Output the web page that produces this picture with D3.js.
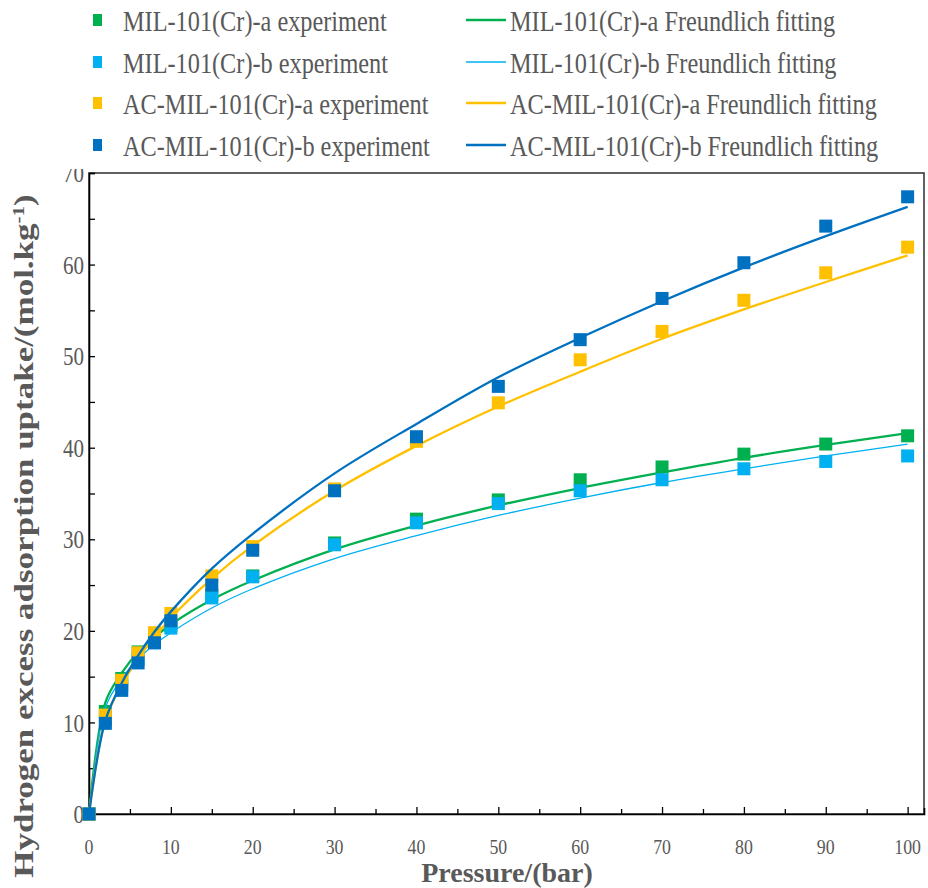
<!DOCTYPE html>
<html><head><meta charset="utf-8">
<script src="https://cdn.jsdelivr.net/npm/d3@7"></script>
<style>html,body{margin:0;padding:0;background:#fff;}svg{display:block;}</style>
</head><body>
<script>
// ---- data ----
const pressure = [0,2,4,6,8,10,15,20,30,40,50,60,70,80,90,100];
const milA_exp = [0,11.2,14.8,17.7,19.4,20.6,23.9,26.0,29.6,32.2,34.3,36.5,37.9,39.3,40.4,41.3];
const milB_exp = [0,10.3,14.0,16.9,18.7,20.3,23.6,25.9,29.4,31.8,33.9,35.3,36.5,37.7,38.5,39.1];
const acA_exp  = [0,10.8,14.6,17.6,19.8,21.9,26.0,29.2,35.5,40.7,44.9,49.6,52.7,56.1,59.1,61.9];
const acB_exp  = [0,9.9,13.5,16.5,18.7,21.1,25.0,28.8,35.3,41.2,46.7,51.8,56.3,60.2,64.2,67.4];
const milA_fit = [0,12.2,15.4,17.7,19.3,20.7,23.4,25.5,28.9,31.5,33.7,35.6,37.3,38.9,40.3,41.6];
const milB_fit = [0,11.6,14.8,16.9,18.5,19.8,22.5,24.6,27.9,30.4,32.6,34.5,36.2,37.7,39.1,40.4];
const acA_fit  = [0,10.3,14.1,17.0,19.3,21.4,25.7,29.3,35.3,40.2,44.5,48.3,51.9,55.1,58.1,61.0];
const acB_fit  = [0,10.2,14.3,17.3,19.9,22.1,26.8,30.6,37.2,42.6,47.7,52.0,56.0,59.7,63.1,66.3];
const xTicks = [0,10,20,30,40,50,60,70,80,90,100];
const yTicks = [0,10,20,30,40,50,60,70];
const seriesNames = [
  "MIL-101(Cr)-a experiment","MIL-101(Cr)-a Freundlich fitting",
  "MIL-101(Cr)-b experiment","MIL-101(Cr)-b Freundlich fitting",
  "AC-MIL-101(Cr)-a experiment","AC-MIL-101(Cr)-a Freundlich fitting",
  "AC-MIL-101(Cr)-b experiment","AC-MIL-101(Cr)-b Freundlich fitting"];
const colors = ["#00B050","#00B0F0","#FFC000","#0070C0"];
const lineWidths = [2.3,1.3,2.3,2.3];
const expData = [milA_exp, milB_exp, acA_exp, acB_exp];
const fitData = [milA_fit, milB_fit, acA_fit, acB_fit];

const W = 928, H = 888;
const L = 89, R = 924, T = 173, B = 814;
const SX = 0.81; // horizontal text compression
const FONT = "'Liberation Serif','Times New Roman',serif";
const TXT = "#595959";

const svg = d3.select("body").append("svg").attr("width", W).attr("height", H);
const x = d3.scaleLinear().domain([0, 102]).range([L, R]);
const y = d3.scaleLinear().domain([0, 70]).range([B, T]);

function txt(g, s, px, py, size, anchor, opts = {}) {
  const sx = opts.sx || SX;
  const t = g.append("text")
    .attr("transform", `translate(${px},${py}) scale(${sx},1)` + (opts.rotate ? ` rotate(${opts.rotate})` : ""))
    .attr("text-anchor", anchor)
    .attr("dy", "0.35em")
    .attr("font-family", FONT)
    .attr("font-size", size)
    .attr("font-weight", opts.bold ? "bold" : "normal")
    .attr("fill", TXT);
  if (s !== null) t.text(s);
  return t;
}

// frame
svg.append("rect").attr("x", L).attr("y", T).attr("width", R - L).attr("height", B - T)
  .attr("fill", "none").attr("stroke", "#3a3a3a").attr("stroke-width", 1.6);

// axes (ticks inside)
const xAxis = d3.axisBottom(x).tickValues(d3.range(0, 101, 5)).tickSize(-6).tickFormat("");
const gx = svg.append("g").attr("transform", `translate(0,${B})`).call(xAxis);
gx.select(".domain").attr("stroke", "#000").attr("stroke-width", 1.6);
gx.selectAll(".tick line").attr("stroke", "#000").attr("stroke-width", 1.3)
  .attr("y2", d => d % 10 === 0 ? -7 : -5);
const yAxis = d3.axisLeft(y).tickValues(d3.range(0, 71, 5)).tickSize(-6).tickFormat("");
const gy = svg.append("g").attr("transform", `translate(${L},0)`).call(yAxis);
gy.select(".domain").attr("stroke", "#000").attr("stroke-width", 1.6);
gy.selectAll(".tick line").attr("stroke", "#000").attr("stroke-width", 1.3)
  .attr("x2", 6);

// tick labels
const lab = svg.append("g");
xTicks.forEach(v => txt(lab, String(v), x(v), 846, 22, "middle"));
yTicks.forEach(v => txt(lab, String(v), 84, y(v), 26, "end"));

// axis titles
txt(svg, "Pressure/(bar)", 507, 872, 28, "middle", {bold: true, sx: 1.0});
const yt = txt(svg, null, 23, 536, 35, "middle", {bold: true, rotate: -90});
yt.append("tspan").text("Hydrogen excess adsorption uptake/(mol.kg");
yt.append("tspan").attr("baseline-shift", "super").attr("font-size", "60%").text("-1");
yt.append("tspan").text(")");

// series
const line = d3.line().x((d, i) => x(pressure[i])).y(d => y(d)).curve(d3.curveCatmullRom.alpha(0.5));
const ms = 13;
for (let s = 0; s < 4; s++) {
  svg.append("g").selectAll("rect").data(expData[s]).join("rect")
    .attr("x", (d, i) => x(pressure[i]) - ms / 2)
    .attr("y", d => y(d) - ms / 2)
    .attr("width", ms).attr("height", ms)
    .attr("fill", colors[s]);
  svg.append("path").datum(fitData[s]).attr("d", line)
    .attr("fill", "none").attr("stroke", colors[s]).attr("stroke-width", lineWidths[s]);
}

// legend (white background clips the top of the "70" label)
svg.append("rect").attr("x", 0).attr("y", 0).attr("width", W).attr("height", 169).attr("fill", "#fff");
const rowsY = [20, 62, 103, 145];
const leg = svg.append("g");
for (let s = 0; s < 4; s++) {
  const ry = rowsY[s];
  leg.append("rect").attr("x", 93).attr("y", ry - 6).attr("width", 9).attr("height", 12).attr("fill", colors[s]);
  txt(leg, seriesNames[2 * s], 123, ry, 30, "start");
  leg.append("line").attr("x1", 466).attr("x2", 506).attr("y1", ry).attr("y2", ry)
    .attr("stroke", colors[s]).attr("stroke-width", lineWidths[s]);
  txt(leg, seriesNames[2 * s + 1], 510, ry, 30, "start");
}
</script>
</body></html>
